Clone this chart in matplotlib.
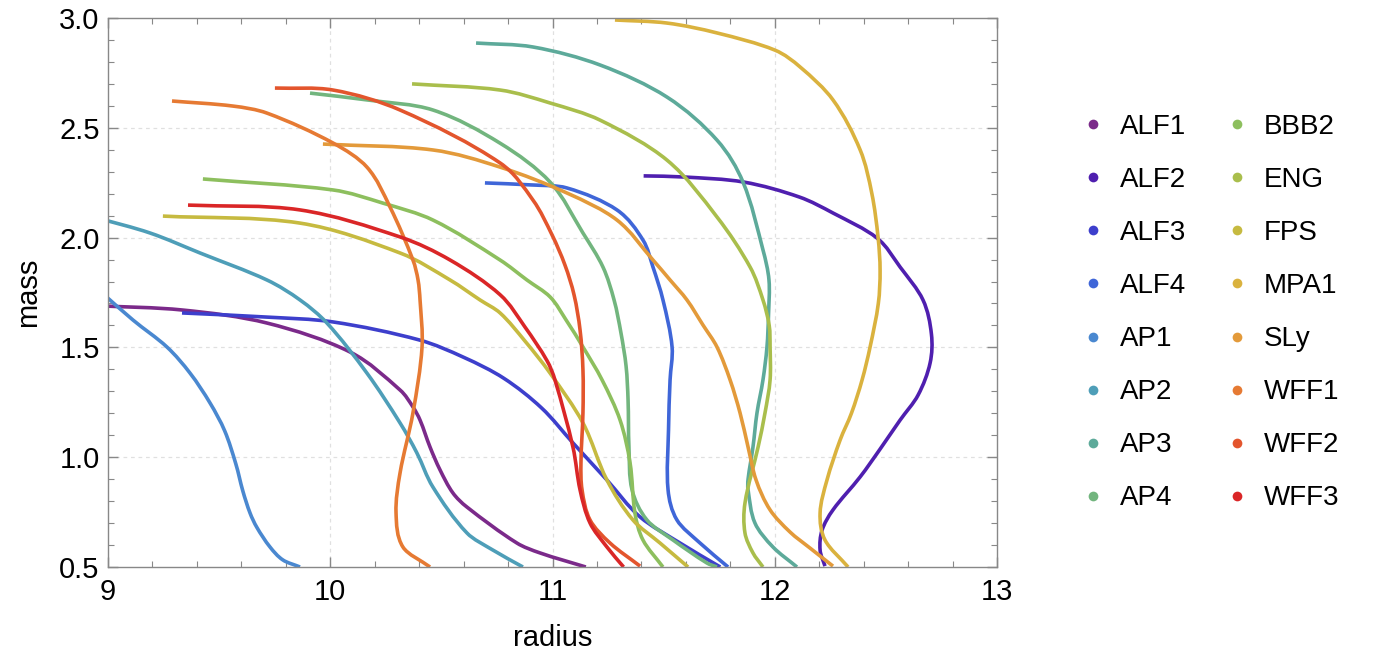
import matplotlib
matplotlib.use("Agg")
import numpy as np
import matplotlib.pyplot as plt
from matplotlib.lines import Line2D
from matplotlib.path import Path
from matplotlib.patches import PathPatch
from matplotlib.ticker import MultipleLocator, FuncFormatter

plt.rcParams['font.family'] = ['Liberation Sans', 'DejaVu Sans']

names = ["ALF1", "ALF2", "ALF3", "ALF4", "AP1", "AP2", "AP3", "AP4",
         "BBB2", "ENG", "FPS", "MPA1", "SLy", "WFF1", "WFF2", "WFF3"]

colors = ["#7B2A8A", "#4F1FAF", "#3D3FCC", "#3F66D8", "#4A88D0", "#4E9EB8",
          "#5DAA9A", "#72B57E", "#8DBF5E", "#A9BE4C", "#C6BA40", "#DAB23E",
          "#E39A3A", "#E67A33", "#E3552D", "#DA2627"]

# (radius, mass)
ALF1_r = [8.95, 9.337, 9.715, 10.089, 10.314, 10.372, 10.404, 10.449, 10.494, 10.552, 10.615, 10.84, 10.944, 11.15]
ALF1_m = [1.690, 1.670, 1.611, 1.479, 1.306, 1.229, 1.169, 1.046, 0.942, 0.837, 0.773, 0.609, 0.564, 0.500]

ALF2_r = [11.41, 11.59, 11.86, 12.11, 12.262, 12.46, 12.564, 12.667, 12.705, 12.699, 12.645, 12.564, 12.474, 12.384, 12.262, 12.213, 12.204, 12.226]
ALF2_m = [2.281, 2.276, 2.253, 2.185, 2.112, 1.998, 1.866, 1.716, 1.560, 1.429, 1.283, 1.169, 1.037, 0.910, 0.760, 0.668, 0.577, 0.504]

ALF3_r = [9.333, 9.715, 10.012, 10.40, 10.60, 10.78, 10.95, 11.092, 11.245, 11.394, 11.574, 11.755]
ALF3_m = [1.657, 1.638, 1.616, 1.534, 1.455, 1.360, 1.225, 1.065, 0.896, 0.728, 0.609, 0.500]

ALF4_r = [10.696, 10.90, 11.065, 11.29, 11.407, 11.452, 11.497, 11.538, 11.529, 11.522, 11.52, 11.56, 11.664, 11.79]
ALF4_m = [2.249, 2.240, 2.226, 2.126, 1.989, 1.866, 1.716, 1.502, 1.352, 1.124, 0.851, 0.714, 0.609, 0.500]

AP1_r = [8.96, 9.112, 9.265, 9.369, 9.459, 9.525, 9.575, 9.607, 9.639, 9.67, 9.729, 9.787, 9.864]
AP1_m = [1.760, 1.625, 1.502, 1.383, 1.247, 1.120, 0.970, 0.845, 0.746, 0.680, 0.591, 0.532, 0.500]

AP2_r = [8.95, 9.189, 9.414, 9.715, 9.864, 9.985, 10.165, 10.314, 10.39, 10.462, 10.615, 10.732, 10.867]
AP2_m = [2.090, 2.021, 1.930, 1.807, 1.716, 1.611, 1.383, 1.156, 1.019, 0.864, 0.655, 0.577, 0.500]

AP3_r = [10.656, 10.912, 11.214, 11.515, 11.74, 11.857, 11.947, 11.974, 11.972, 11.965, 11.947, 11.92, 11.902, 11.88, 11.88, 11.911, 11.992, 12.10]
AP3_m = [2.886, 2.868, 2.786, 2.640, 2.444, 2.253, 1.944, 1.807, 1.650, 1.502, 1.352, 1.201, 1.046, 0.900, 0.851, 0.700, 0.591, 0.500]

AP4_r = [9.909, 10.165, 10.462, 10.764, 10.989, 11.137, 11.227, 11.277, 11.308, 11.331, 11.34, 11.344, 11.358, 11.425, 11.542, 11.695, 11.74]
AP4_m = [2.658, 2.627, 2.581, 2.430, 2.253, 2.021, 1.866, 1.716, 1.566, 1.415, 1.260, 1.046, 0.851, 0.714, 0.623, 0.518, 0.500]

BBB2_r = [9.427, 10.012, 10.237, 10.462, 10.764, 10.885, 10.989, 11.061, 11.137, 11.223, 11.304, 11.349, 11.371, 11.407, 11.497]
BBB2_m = [2.267, 2.217, 2.157, 2.080, 1.898, 1.807, 1.730, 1.625, 1.502, 1.352, 1.169, 0.974, 0.746, 0.623, 0.500]

ENG_r = [10.368, 10.764, 10.989, 11.214, 11.515, 11.74, 11.889, 11.947, 11.975, 11.979, 11.979, 11.956, 11.925, 11.866, 11.866, 11.902, 11.947]
ENG_m = [2.700, 2.672, 2.613, 2.535, 2.353, 2.094, 1.866, 1.716, 1.600, 1.502, 1.352, 1.201, 1.046, 0.791, 0.655, 0.564, 0.500]

FPS_r = [9.247, 9.864, 10.314, 10.539, 10.674, 10.764, 10.876, 10.989, 11.137, 11.245, 11.362, 11.484, 11.61]
FPS_m = [2.098, 2.066, 1.930, 1.807, 1.716, 1.657, 1.529, 1.383, 1.156, 0.896, 0.714, 0.609, 0.500]

MPA1_r = [11.281, 11.515, 11.74, 12.0, 12.114, 12.262, 12.384, 12.437, 12.465, 12.474, 12.466, 12.429, 12.393, 12.345, 12.294, 12.235, 12.204, 12.226, 12.33]
MPA1_m = [2.991, 2.977, 2.932, 2.854, 2.777, 2.627, 2.400, 2.200, 2.000, 1.850, 1.700, 1.502, 1.352, 1.200, 1.078, 0.896, 0.746, 0.623, 0.500]

SLy_r = [9.967, 10.462, 10.764, 11.065, 11.29, 11.452, 11.529, 11.605, 11.677, 11.74, 11.799, 11.844, 11.88, 11.916, 11.979, 12.069, 12.159, 12.262]
SLy_m = [2.426, 2.399, 2.321, 2.203, 2.080, 1.898, 1.807, 1.716, 1.602, 1.502, 1.352, 1.201, 1.046, 0.896, 0.760, 0.659, 0.586, 0.504]

WFF1_r = [9.288, 9.562, 9.715, 10.012, 10.165, 10.269, 10.372, 10.395, 10.404, 10.413, 10.372, 10.314, 10.296, 10.327, 10.449]
WFF1_m = [2.622, 2.599, 2.567, 2.431, 2.321, 2.139, 1.898, 1.807, 1.716, 1.502, 1.201, 0.928, 0.746, 0.591, 0.500]

WFF2_r = [9.751, 10.012, 10.314, 10.764, 10.912, 10.998, 11.056, 11.097, 11.124, 11.137, 11.137, 11.128, 11.133, 11.169, 11.259, 11.394]
WFF2_m = [2.681, 2.672, 2.581, 2.340, 2.171, 2.012, 1.875, 1.739, 1.579, 1.397, 1.201, 0.974, 0.851, 0.714, 0.609, 0.504]

WFF3_r = [9.36, 9.864, 10.314, 10.539, 10.764, 10.876, 10.975, 11.011, 11.092, 11.124, 11.169, 11.245, 11.32]
WFF3_m = [2.148, 2.126, 2.003, 1.898, 1.740, 1.593, 1.440, 1.352, 1.046, 0.851, 0.700, 0.591, 0.500]

curves = [(ALF1_r, ALF1_m), (ALF2_r, ALF2_m), (ALF3_r, ALF3_m), (ALF4_r, ALF4_m),
          (AP1_r, AP1_m), (AP2_r, AP2_m), (AP3_r, AP3_m), (AP4_r, AP4_m),
          (BBB2_r, BBB2_m), (ENG_r, ENG_m), (FPS_r, FPS_m), (MPA1_r, MPA1_m),
          (SLy_r, SLy_m), (WFF1_r, WFF1_m), (WFF2_r, WFF2_m), (WFF3_r, WFF3_m)]


def smooth_path(r, m, sx=1/4.0, sy=1/2.5):
    """Cubic Bezier path through the read points (chord-length Hermite)."""
    P = np.column_stack([r, m]).astype(float)
    S = P * [sx, sy]
    d = np.linalg.norm(np.diff(S, axis=0), axis=1)
    n = len(P)
    T = np.zeros_like(S)
    T[0] = (S[1] - S[0]) / d[0]
    T[-1] = (S[-1] - S[-2]) / d[-1]
    for i in range(1, n - 1):
        T[i] = (S[i + 1] - S[i - 1]) / (d[i - 1] + d[i])
    verts = [P[0]]
    codes = [Path.MOVETO]
    for i in range(n - 1):
        c1 = (S[i] + T[i] * d[i] / 3) / [sx, sy]
        c2 = (S[i + 1] - T[i + 1] * d[i] / 3) / [sx, sy]
        verts += [c1, c2, P[i + 1]]
        codes += [Path.CURVE4] * 3
    return Path(verts, codes)


fig = plt.figure(figsize=(13.75, 6.55), dpi=100)
ax = fig.add_axes([108/1375, 1-567/655, (997-108)/1375, (567-18)/655])

for (r, m), c in zip(curves, colors):
    ax.add_patch(PathPatch(smooth_path(r, m), fill=False, edgecolor=c, lw=2.6,
                           joinstyle='round', capstyle='butt', zorder=2))

ax.set_xlim(9, 13)
ax.set_ylim(0.5, 3.0)
ax.xaxis.set_major_locator(MultipleLocator(1))
ax.xaxis.set_minor_locator(MultipleLocator(0.2))
ax.yaxis.set_major_locator(MultipleLocator(0.5))
ax.yaxis.set_minor_locator(MultipleLocator(0.1))
ax.xaxis.set_major_formatter(FuncFormatter(lambda v, p: f"{v:.0f}"))
ax.yaxis.set_major_formatter(FuncFormatter(lambda v, p: f"{v:.1f}"))

ax.tick_params(which='both', direction='in', top=True, right=True, color='#888888',
               labelsize=21, labelcolor='black')
ax.tick_params(which='major', length=7, width=1)
ax.tick_params(which='minor', length=4, width=0.8)
ax.tick_params(axis='x', pad=8)
ax.tick_params(axis='y', pad=6)
for s in ax.spines.values():
    s.set_color('#888888')
    s.set_linewidth(1.0)

for v in [10, 11, 12]:
    ax.axvline(v, color='#e0e0e0', lw=0.9, ls=(0, (3, 3)), zorder=0)
for v in [1.0, 1.5, 2.0, 2.5]:
    ax.axhline(v, color='#e0e0e0', lw=0.9, ls=(0, (3, 3)), zorder=0)

ax.set_xlabel("radius", fontsize=21, labelpad=13)
ax.set_ylabel("mass", fontsize=21, labelpad=12)

handles = [Line2D([], [], ls='none', marker='o', ms=7, color=c, markeredgewidth=0) for c in colors]
fig.legend(handles, names, ncol=2, loc='upper left', bbox_to_anchor=(1071/1375, 1-100/655),
           frameon=False, fontsize=20, handlelength=0.6, handletextpad=0.65,
           columnspacing=1.55, labelspacing=0.975, borderpad=0)

fig.savefig("out.png", dpi=100)
